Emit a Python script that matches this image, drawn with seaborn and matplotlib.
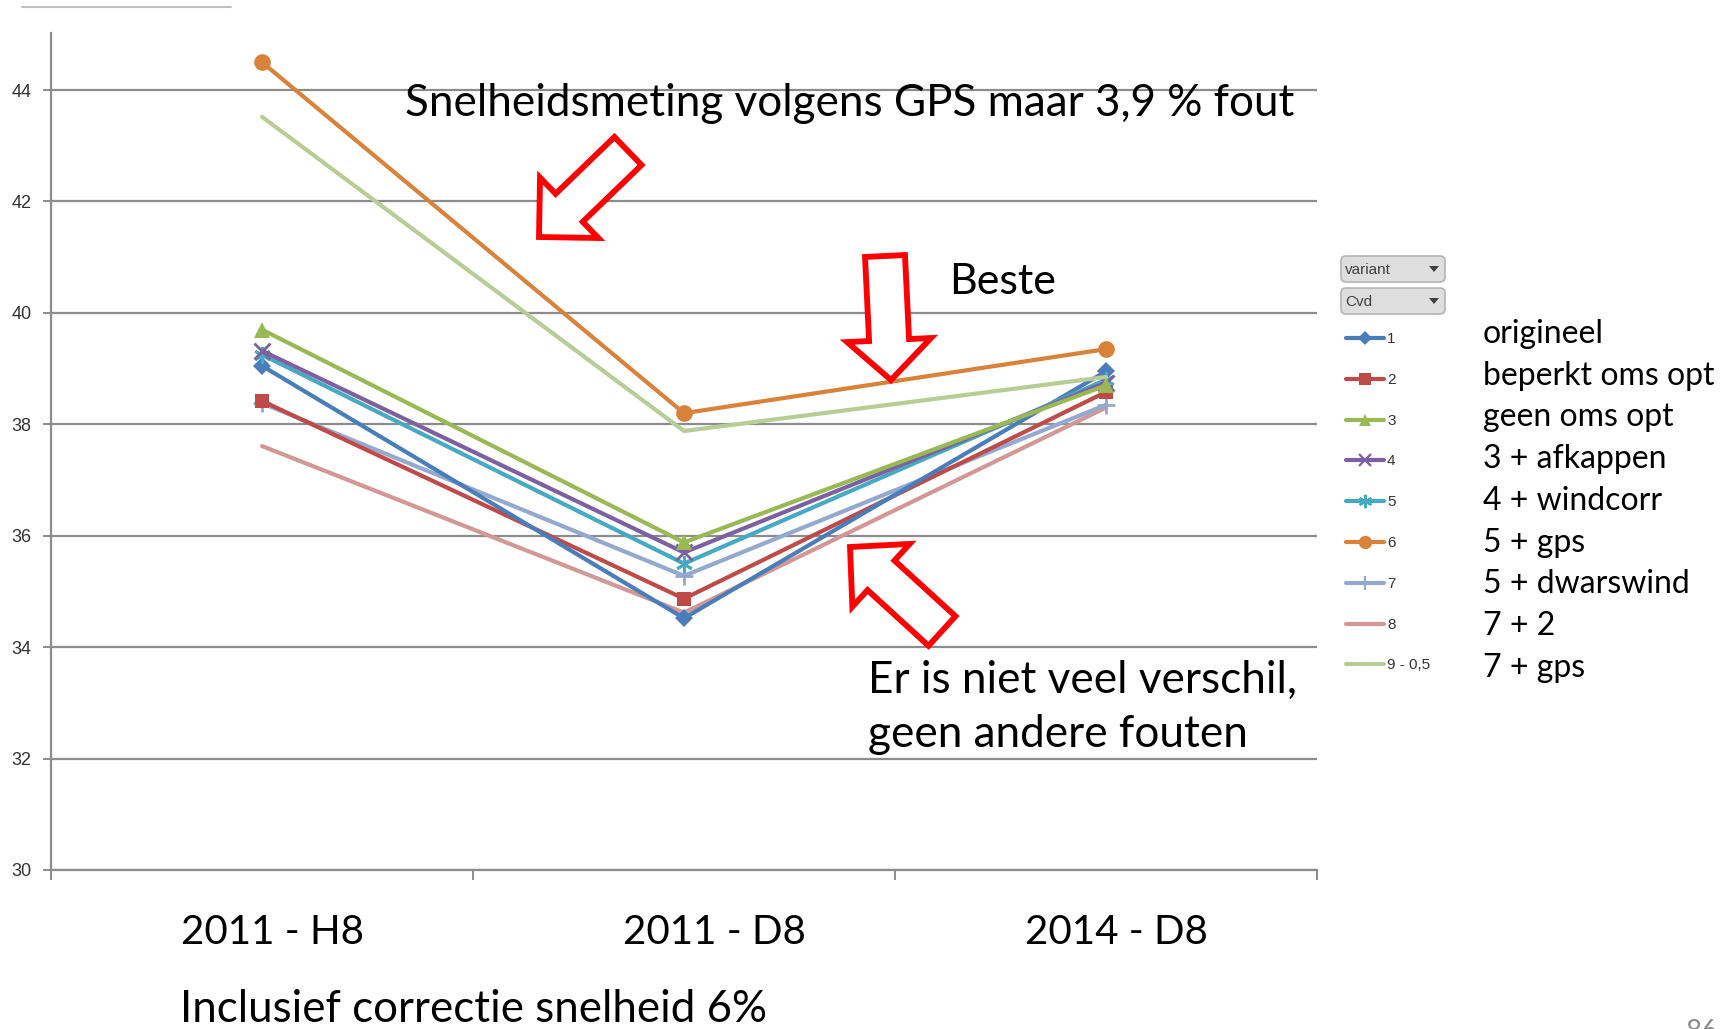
import numpy as np
import pandas as pd
import matplotlib
matplotlib.use("Agg")
import matplotlib.pyplot as plt
from matplotlib.patches import FancyArrow, FancyBboxPatch, Polygon
from matplotlib.lines import Line2D
from matplotlib.transforms import ScaledTranslation
import seaborn as sns

# ---- data -------------------------------------------------------------
categories = ["2011 - H8", "2011 - D8", "2014 - D8"]
series_keys = ["1", "2", "3", "4", "5", "6", "7", "8", "9 - 0,5"]
series_desc = ["origineel", "beperkt oms opt", "geen oms opt", "3 + afkappen",
               "4 + windcorr", "5 + gps", "5 + dwarswind", "7 + 2", "7 + gps"]
v1 = [39.05, 34.52, 38.95]
v2 = [38.42, 34.87, 38.58]
v3 = [39.70, 35.88, 38.70]
v4 = [39.32, 35.70, 38.75]
v5 = [39.25, 35.50, 38.80]
v6 = [44.50, 38.20, 39.35]
v7 = [38.38, 35.28, 38.35]
v8 = [37.61, 34.62, 38.30]
v9 = [43.52, 37.88, 38.85]
values = [v1, v2, v3, v4, v5, v6, v7, v8, v9]
y_ticks = [30, 32, 34, 36, 38, 40, 42, 44]

# ---- styling ----------------------------------------------------------
colors = ["#4a7ebb", "#be4b48", "#98b954", "#7d60a0", "#46aac5",
          "#d9823a", "#93a9cf", "#d39896", "#b7cd95"]
markers = ["D", "s", "^", "x", (6, 2, 0), "o", "+", None, None]
msizes = [9, 10, 11, 11, 12, 12, 13, 0, 0]

sns.set_theme(style="white")
plt.rcParams["font.family"] = ["Lato", "DejaVu Sans"]

W, H = 1731, 1029
fig = plt.figure(figsize=(W / 100, H / 100), dpi=100)
fig.patch.set_facecolor("white")

# plot area in pixel units
x0, x1, ytop, ybot = 51, 1317, 33, 870
ax = fig.add_axes([x0 / W, 1 - ybot / H, (x1 - x0) / W, (ybot - ytop) / H])

rows = []
for key, vals in zip(series_keys, values):
    for c, v in zip(categories, vals):
        rows.append({"variant": key, "periode": c, "Cvd": v})
df = pd.DataFrame(rows)

draw_order = [7, 6, 1, 0, 4, 3, 2, 8, 5]
for i in draw_order:
    sub = df[df["variant"] == series_keys[i]]
    sns.lineplot(data=sub, x="periode", y="Cvd", ax=ax, color=colors[i],
                 lw=3.0, marker=markers[i], markersize=msizes[i],
                 markeredgewidth=2.0 if markers[i] in ("x", "+", (6, 2, 0)) else 0,
                 markeredgecolor=colors[i], sort=False, legend=False,
                 zorder=3)

ax.set_xlim(-0.5, 2.5)
ax.set_ylim(30, 30 + (ybot - ytop) / 55.71)
ax.set_yticks(y_ticks)
ax.set_yticklabels([str(t) for t in y_ticks], family=["Liberation Sans"],
                   fontsize=13, color="#333333")
ax.yaxis.grid(True, color="#8c8c8c", lw=1.6)
ax.set_axisbelow(True)
ax.set_xlabel("")
ax.set_ylabel("")
for s in ["top", "right"]:
    ax.spines[s].set_visible(False)
for s in ["left", "bottom"]:
    ax.spines[s].set_color("#8c8c8c")
    ax.spines[s].set_linewidth(1.6)
ax.tick_params(axis="y", which="major", length=6, color="#8c8c8c", width=1.4,
               left=True, pad=8)

# category labels under the axis, tick marks at category boundaries
ax.set_xticks(range(len(categories)))
ax.set_xticklabels(categories, fontsize=29, color="black")
ax.set_xticks([-0.5, 0.5, 1.5, 2.5], minor=True)
ax.tick_params(axis="x", which="major", length=0, pad=32)
ax.tick_params(axis="x", which="minor", length=7, color="#8c8c8c", width=1.4,
               bottom=True)
for lab, dx in zip(ax.get_xticklabels(), [11, 30, 10]):
    lab.set_transform(lab.get_transform() + ScaledTranslation(dx / 100, 0, fig.dpi_scale_trans))

# ---- overlay in pixel coordinates ---------------------------------------
ov = fig.add_axes([0, 0, 1, 1], zorder=10)
ov.set_xlim(0, W)
ov.set_ylim(H, 0)
ov.axis("off")
ov.patch.set_alpha(0)

ov.plot([22, 231], [7, 7], color="#c0c0c0", lw=1.5)


def block_arrow(tip, tail, shaft_w, head_w, head_l):
    tx, ty = tail
    dx, dy = tip[0] - tx, tip[1] - ty
    ov.add_patch(FancyArrow(tx, ty, dx, dy, width=shaft_w, head_width=head_w,
                            head_length=head_l, length_includes_head=True,
                            facecolor="white", edgecolor="#ff0000", lw=4.2,
                            joinstyle="miter"))


block_arrow((539, 237), (628, 151), 39, 84, 42)
block_arrow((891, 380), (885, 256), 40, 84, 40)
block_arrow((850, 547), (942, 631), 40, 85, 42)

txt = dict(color="black", family=["Lato", "DejaVu Sans"])
ov.text(405, 116, "Snelheidsmeting volgens GPS maar 3,9 % fout", fontsize=31.7,
        ha="left", va="baseline", **txt)
ov.text(949, 294, "Beste", fontsize=31, ha="left", va="baseline", **txt)
ov.text(868, 693, "Er is niet veel verschil,", fontsize=31.8, ha="left",
        va="baseline", **txt)
ov.text(868, 747, "geen andere fouten", fontsize=31.8, ha="left",
        va="baseline", **txt)
ov.text(180, 1022, "Inclusief correctie snelheid 6%", fontsize=31.6, ha="left",
        va="baseline", **txt)
ov.text(1686, 1019, "86", fontsize=20, ha="left", va="top", color="#8a8a8a")

# ---- legend panel -------------------------------------------------------
for label, y in [("variant", 269), ("Cvd", 301)]:
    ov.add_patch(FancyBboxPatch((1341, y - 13), 104, 26,
                                boxstyle="round,pad=0,rounding_size=5",
                                facecolor="#dedede", edgecolor="#b4b4b4", lw=1.2))
    ov.text(1345, y + 1, label, fontsize=11, va="center", ha="left",
            color="#404040", family=["Liberation Sans"])
    ov.add_patch(Polygon([[1429, y - 3], [1439, y - 3], [1434, y + 3]],
                         closed=True, facecolor="#404040", edgecolor="none"))

leg_y0, leg_dy = 338, 40.8
desc_y0, desc_dy = 343, 41.7
for i, (key, desc) in enumerate(zip(series_keys, series_desc)):
    y = leg_y0 + i * leg_dy
    ov.add_line(Line2D([1346, 1384], [y, y], color=colors[i], lw=3.0))
    if markers[i] is not None:
        ov.add_line(Line2D([1365], [y], color=colors[i], marker=markers[i],
                           markersize=msizes[i] * 0.8,
                           markeredgewidth=1.6 if markers[i] in ("x", "+", (6, 2, 0)) else 0,
                           markeredgecolor=colors[i]))
    ov.text(1387, y + 1, key, fontsize=11, va="center", ha="left",
            color="#333333", family=["Liberation Sans"])
    ov.text(1483, desc_y0 + i * desc_dy, desc, fontsize=23, va="baseline",
            ha="left", **txt)

fig.savefig("out.png", dpi=100, facecolor="white")
